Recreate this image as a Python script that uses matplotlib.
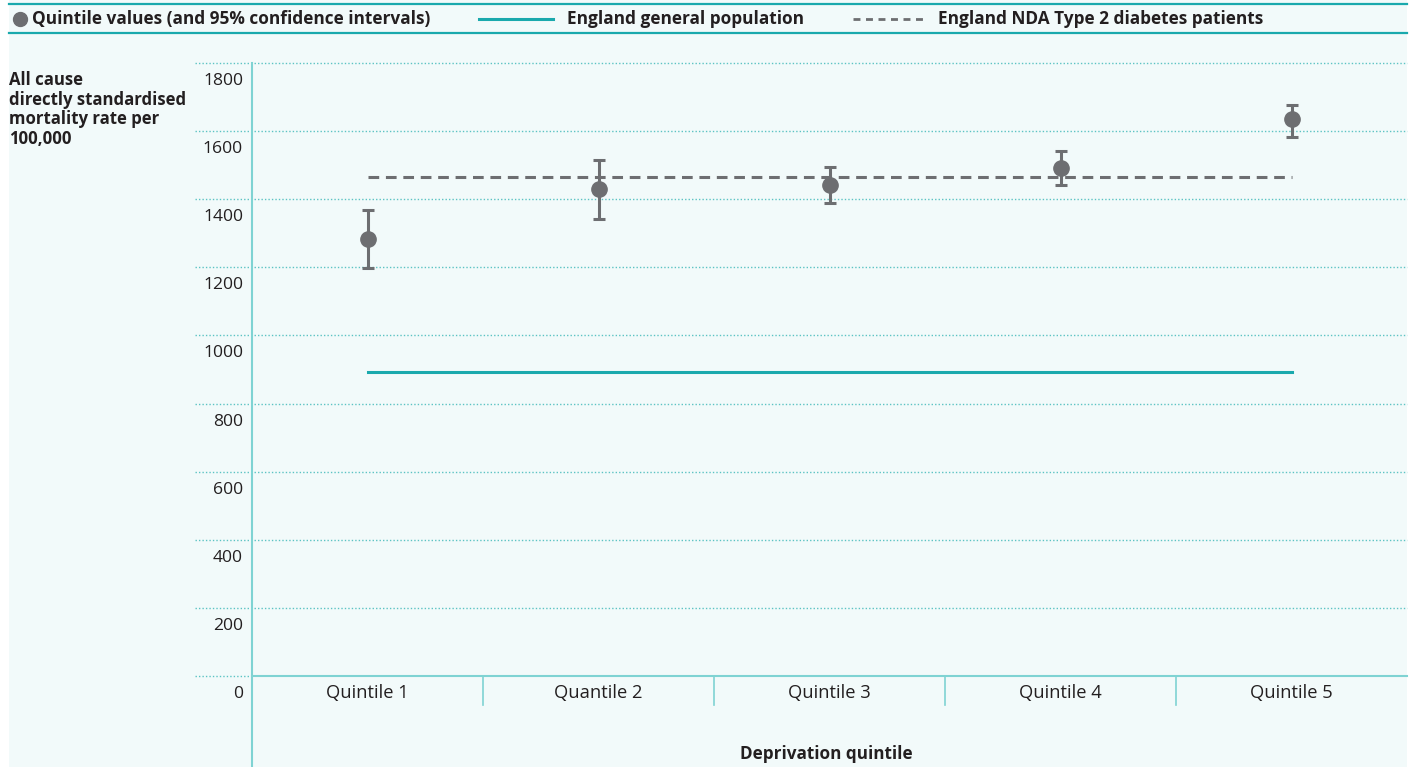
import numpy as np
import matplotlib.pyplot as plt
from matplotlib.lines import Line2D
from matplotlib.patches import Rectangle
from matplotlib.transforms import ScaledTranslation

plt.rcParams['font.family'] = ['Open Sans', 'DejaVu Sans']

# Mortality by deprivation quintile, with 95% confidence intervals
categorias = ["Quintile 1", "Quantile 2", "Quintile 3", "Quintile 4", "Quintile 5"]
taxa     = [1282, 1429, 1441, 1491, 1635]
ic_sup   = [1368, 1515, 1494, 1541, 1676]
ic_inf   = [1197, 1341, 1388, 1441, 1582]
pop_geral = 894
nda_tipo2 = 1465
yticks = [0, 200, 400, 600, 800, 1000, 1200, 1400, 1600, 1800]

cinza  = "#6d6e71"
teal   = "#1aa9ad"
grade  = "#5cc3c3"
eixo   = "#7fd3d3"
fundo  = "#f2fafa"
texto  = "#231f20"

W, H = 1410, 767
fig = plt.figure(figsize=(W/100, H/100), dpi=100)
fig.patch.set_facecolor("white")
fig.add_artist(Rectangle((9/W, 0), (1407-9)/W, 1, transform=fig.transFigure,
                         facecolor=fundo, edgecolor="none", zorder=-10))

# faixa da legenda
for yy in (4, 33):
    fig.add_artist(Line2D([9/W, 1407/W], [1-yy/H, 1-yy/H], color=teal, lw=1.6,
                          transform=fig.transFigure))
yl = 1 - 19/H
fig.add_artist(Line2D([20/W], [yl], marker="o", ms=10, color=cinza, lw=0,
                      transform=fig.transFigure))
fig.text(32/W, yl, "Quintile values (and 95% confidence intervals)", fontsize=12.4,
         fontweight="bold", color=texto, va="center", ha="left")
fig.add_artist(Line2D([479/W, 553/W], [yl, yl], color=teal, lw=2.2,
                      transform=fig.transFigure))
fig.text(567/W, yl, "England general population", fontsize=12.4,
         fontweight="bold", color=texto, va="center", ha="left")
fig.add_artist(Line2D([853/W, 926/W], [yl, yl], color=cinza, lw=2, ls=(0, (2.5, 2)),
                      transform=fig.transFigure))
fig.text(938/W, yl, "England NDA Type 2 diabetes patients", fontsize=12.4,
         fontweight="bold", color=texto, va="center", ha="left")

# eixo principal
x0, x1, ytop, ybot = 252, 1407, 63, 676
ax = fig.add_axes([x0/W, 1-ybot/H, (x1-x0)/W, (ybot-ytop)/H])
ax.set_facecolor("none")
ax.set_xlim(-0.5, 4.5)
ax.set_ylim(0, 1800)
for s in ax.spines.values():
    s.set_visible(False)

x = np.arange(len(categorias))
ytr = ax.get_yaxis_transform()
desloc = ytr + ScaledTranslation(0, -0.18, fig.dpi_scale_trans)
esq = (195 - x0) / (x1 - x0)
for v in yticks:
    ax.plot([esq, 1 if v else 0], [v, v], transform=ytr, color=grade, lw=1,
            ls=(0, (1, 1.5)), clip_on=False, zorder=1)
    ax.text(-9/(x1-x0), v, str(v), transform=desloc,
            ha="right", va="center", fontsize=12.6, color=texto)

# linhas dos eixos
ax.plot([0, 1], [0, 0], transform=ax.transAxes, color=eixo, lw=1.5, clip_on=False)
ax.plot([0, 0], [1, -(H-ybot)/(ybot-ytop)], transform=ax.transAxes, color=eixo,
        lw=1.5, clip_on=False)
xtr = ax.get_xaxis_transform()
for d in x[:-1] + 0.5:
    ax.plot([d, d], [0, -(705-ybot)/(ybot-ytop)], transform=xtr, color=eixo, lw=1.2,
            clip_on=False)

ax.set_xticks(x, categorias)
ax.set_yticks([])
ax.tick_params(axis="x", length=0, pad=6, labelsize=13.2, labelcolor=texto)

# linhas de referência
ax.plot([x[0], x[-1]], [pop_geral, pop_geral], color=teal, lw=2.2, zorder=3)
ax.plot([x[0], x[-1]], [nda_tipo2, nda_tipo2], color=cinza, lw=2.2,
        ls=(0, (3.5, 2.2)), zorder=3)

# pontos com intervalos de confiança
taxa_a = np.array(taxa)
erro = [taxa_a - np.array(ic_inf), np.array(ic_sup) - taxa_a]
ax.errorbar(x, taxa, yerr=erro, fmt="o", ms=11, color=cinza, ecolor=cinza,
            elinewidth=2.2, capsize=4.3, capthick=2.2, zorder=4)

fig.text(9/W, 1-71/H, "All cause\ndirectly standardised\nmortality rate per\n100,000",
         fontsize=12.1, fontweight="bold", color=texto, va="top", ha="left",
         linespacing=1.12)
fig.text(826/W, 1-754/H, "Deprivation quintile", fontsize=12.3, fontweight="bold",
         color=texto, ha="center", va="center")

fig.savefig("out.png", dpi=100, facecolor=fig.get_facecolor())
